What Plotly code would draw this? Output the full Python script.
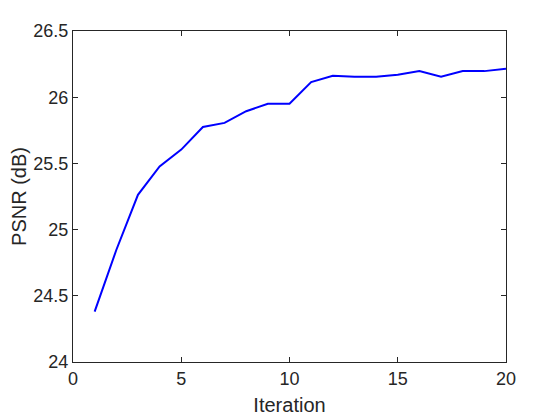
import plotly.graph_objects as go

iterations = list(range(1, 21))
psnr = [24.38, 24.846, 25.263, 25.477, 25.604, 25.775, 25.806, 25.894, 25.95, 25.95,
        26.114, 26.162, 26.154, 26.154, 26.169, 26.197, 26.154, 26.197, 26.197, 26.215]
x_ticks = [0, 5, 10, 15, 20]
y_ticks = [24, 24.5, 25, 25.5, 26, 26.5]

FONT = "Liberation Sans, Arial, Helvetica"
fig = go.Figure()
fig.add_trace(go.Scatter(x=iterations, y=psnr, mode="lines",
                         line=dict(color="#0000ff", width=2)))

axis_common = dict(showline=True, linecolor="#262626", linewidth=1, mirror="ticks",
                   ticks="inside", ticklen=5, tickcolor="#262626", showgrid=False,
                   zeroline=False, automargin=False,
                   tickfont=dict(family=FONT, size=18, color="#262626"))
fig.update_layout(
    width=560, height=420,
    margin=dict(l=65, r=62, t=23, b=66),
    paper_bgcolor="white", plot_bgcolor="white",
    showlegend=False,
    xaxis=dict(range=[0, 20], tickvals=x_ticks, ticktext=[str(v) for v in x_ticks],
               title=dict(text="Iteration", font=dict(family=FONT, size=20, color="#262626"), standoff=10),
               **axis_common),
    yaxis=dict(range=[24, 26.5], tickvals=y_ticks, ticktext=[("%g" % v) for v in y_ticks],
               title=dict(text="PSNR (dB)", font=dict(family=FONT, size=20, color="#262626"), standoff=9),
               **axis_common),
)
fig.write_html("out.html")
